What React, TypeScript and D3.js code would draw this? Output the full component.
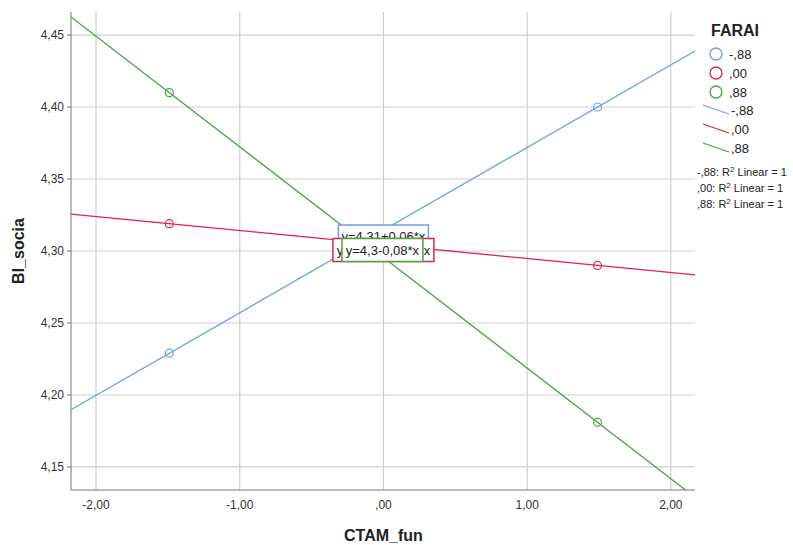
import React, { useEffect, useRef } from 'react';
import * as d3 from 'd3';

const groups = ['-,88', ',00', ',88'];
const colors = ['#6e9fe6', '#e0234e', '#4ea24a'];
const xValues = [-1.49, 1.49];
const yLow = [4.229, 4.319, 4.41];
const yHigh = [4.40, 4.29, 4.181];
const equations = ['y=4,31+0,06*x', 'y=4,3-9,68E-3*x', 'y=4,3-0,08*x'];
const xTicks = [-2, -1, 0, 1, 2];
const yTicks = [4.15, 4.2, 4.25, 4.3, 4.35, 4.4, 4.45];

const fmt = (v: number, d: number) => {
  const s = Math.abs(v).toFixed(d).replace('.', ',').replace(/^0,/, ',');
  return (v < 0 ? '-' : '') + s;
};

const App = () => {
  const ref = useRef<SVGSVGElement>(null);

  useEffect(() => {
    const svg = d3.select(ref.current);
    svg.selectAll('*').remove();

    const font = 'Arial, "Liberation Sans", sans-serif';
    const left = 71, right = 695, top = 12, bottom = 490;

    const x = d3.scaleLinear().domain([-2.174, 2.168]).range([left, right]);
    const y = d3.scaleLinear().domain([4.134, 4.466]).range([bottom, top]);

    svg.append('defs').append('clipPath').attr('id', 'plotclip')
      .append('rect').attr('x', left).attr('y', top)
      .attr('width', right - left).attr('height', bottom - top);

    // grid
    svg.append('g').selectAll('line').data(xTicks).enter().append('line')
      .attr('x1', d => x(d)).attr('x2', d => x(d))
      .attr('y1', top).attr('y2', bottom)
      .attr('stroke', '#cfcfcf').attr('stroke-width', 1.2);
    svg.append('g').selectAll('line').data(yTicks).enter().append('line')
      .attr('x1', left).attr('x2', right)
      .attr('y1', d => y(d)).attr('y2', d => y(d))
      .attr('stroke', '#cfcfcf').attr('stroke-width', 1.2);

    // axes
    svg.append('line').attr('x1', left).attr('x2', left).attr('y1', top).attr('y2', bottom)
      .attr('stroke', '#777').attr('stroke-width', 1);
    svg.append('line').attr('x1', left).attr('x2', right).attr('y1', bottom).attr('y2', bottom)
      .attr('stroke', '#777').attr('stroke-width', 1);
    svg.append('g').selectAll('line').data(yTicks).enter().append('line')
      .attr('x1', left - 4).attr('x2', left)
      .attr('y1', d => y(d)).attr('y2', d => y(d))
      .attr('stroke', '#777');

    svg.append('g').selectAll('text').data(yTicks).enter().append('text')
      .attr('x', left - 7).attr('y', d => y(d) + 4)
      .attr('text-anchor', 'end').attr('font-family', font).attr('font-size', 12)
      .attr('fill', '#333').text(d => fmt(d, 2));
    svg.append('g').selectAll('text').data(xTicks).enter().append('text')
      .attr('x', d => x(d)).attr('y', bottom + 19)
      .attr('text-anchor', 'middle').attr('font-family', font).attr('font-size', 12)
      .attr('fill', '#333').text(d => fmt(d, 2));

    svg.append('text').attr('x', x(0)).attr('y', 541)
      .attr('text-anchor', 'middle').attr('font-family', font)
      .attr('font-size', 16).attr('font-weight', 'bold').attr('fill', '#222')
      .text('CTAM_fun');
    svg.append('text').attr('transform', `translate(24,${(top + bottom) / 2}) rotate(-90)`)
      .attr('text-anchor', 'middle').attr('font-family', font)
      .attr('font-size', 16).attr('font-weight', 'bold').attr('fill', '#222')
      .text('BI_socia');

    // fit lines
    const plot = svg.append('g').attr('clip-path', 'url(#plotclip)');
    const [xa, xb] = x.domain();
    groups.forEach((g, i) => {
      const slope = (yHigh[i] - yLow[i]) / (xValues[1] - xValues[0]);
      const icpt = yLow[i] - slope * xValues[0];
      const line = d3.line<number>().x(d => x(d)).y(d => y(icpt + slope * d));
      plot.append('path').attr('d', line([xa, xb]))
        .attr('fill', 'none').attr('stroke', colors[i]).attr('stroke-width', 1.3);
    });

    // points
    groups.forEach((g, i) => {
      plot.selectAll(null).data([yLow[i], yHigh[i]]).enter().append('circle')
        .attr('cx', (d, j) => x(xValues[j])).attr('cy', d => y(d))
        .attr('r', 4).attr('fill', 'none').attr('stroke', colors[i]).attr('stroke-width', 1.2);
    });

    // equation labels
    const boxes = [
      { cx: x(0) + 0, cy: y(4.3) - 15, w: 90, h: 22 },
      { cx: x(0) + 0, cy: y(4.3) - 1, w: 101, h: 23 },
      { cx: x(0) - 1, cy: y(4.3) - 1, w: 81, h: 23 },
    ];
    groups.forEach((g, i) => {
      const b = boxes[i];
      const lg = svg.append('g');
      lg.append('rect').attr('x', b.cx - b.w / 2).attr('y', b.cy - b.h / 2)
        .attr('width', b.w).attr('height', b.h)
        .attr('fill', '#fff').attr('stroke', colors[i]).attr('stroke-width', 1.5);
      lg.append('text').attr('x', b.cx).attr('y', b.cy + 5)
        .attr('text-anchor', 'middle').attr('font-family', font).attr('font-size', 13)
        .attr('fill', '#222').text(equations[i]);
    });

    // legend
    svg.append('text').attr('x', 711).attr('y', 36)
      .attr('font-family', font).attr('font-size', 16).attr('font-weight', 'bold')
      .attr('fill', '#222').text('FARAI');
    groups.forEach((g, i) => {
      const cy = 54 + i * 19;
      svg.append('circle').attr('cx', 716).attr('cy', cy).attr('r', 6)
        .attr('fill', 'none').attr('stroke', colors[i]).attr('stroke-width', 1.3);
      svg.append('text').attr('x', 729).attr('y', cy + 5)
        .attr('font-family', font).attr('font-size', 13).attr('fill', '#222').text(g);
    });
    groups.forEach((g, i) => {
      const cy = 110 + i * 19;
      svg.append('line').attr('x1', 703).attr('y1', cy - 5).attr('x2', 729).attr('y2', cy + 4)
        .attr('stroke', colors[i]).attr('stroke-width', 1.3);
      svg.append('text').attr('x', 731).attr('y', cy + 5)
        .attr('font-family', font).attr('font-size', 13).attr('fill', '#222').text(g);
    });
    groups.forEach((g, i) => {
      const t = svg.append('text').attr('x', 697).attr('y', 176 + i * 16)
        .attr('font-family', font).attr('font-size', 11).attr('fill', '#222');
      t.append('tspan').text(`${g}: R`);
      t.append('tspan').attr('font-size', 8).attr('dy', -4).text('2');
      t.append('tspan').attr('dy', 4).text(' Linear = 1');
    });
  }, []);

  return (
    <svg ref={ref} width={793} height={545}
      style={{ position: 'absolute', left: 0, top: 0, background: '#fff' }} />
  );
};

export default App;
